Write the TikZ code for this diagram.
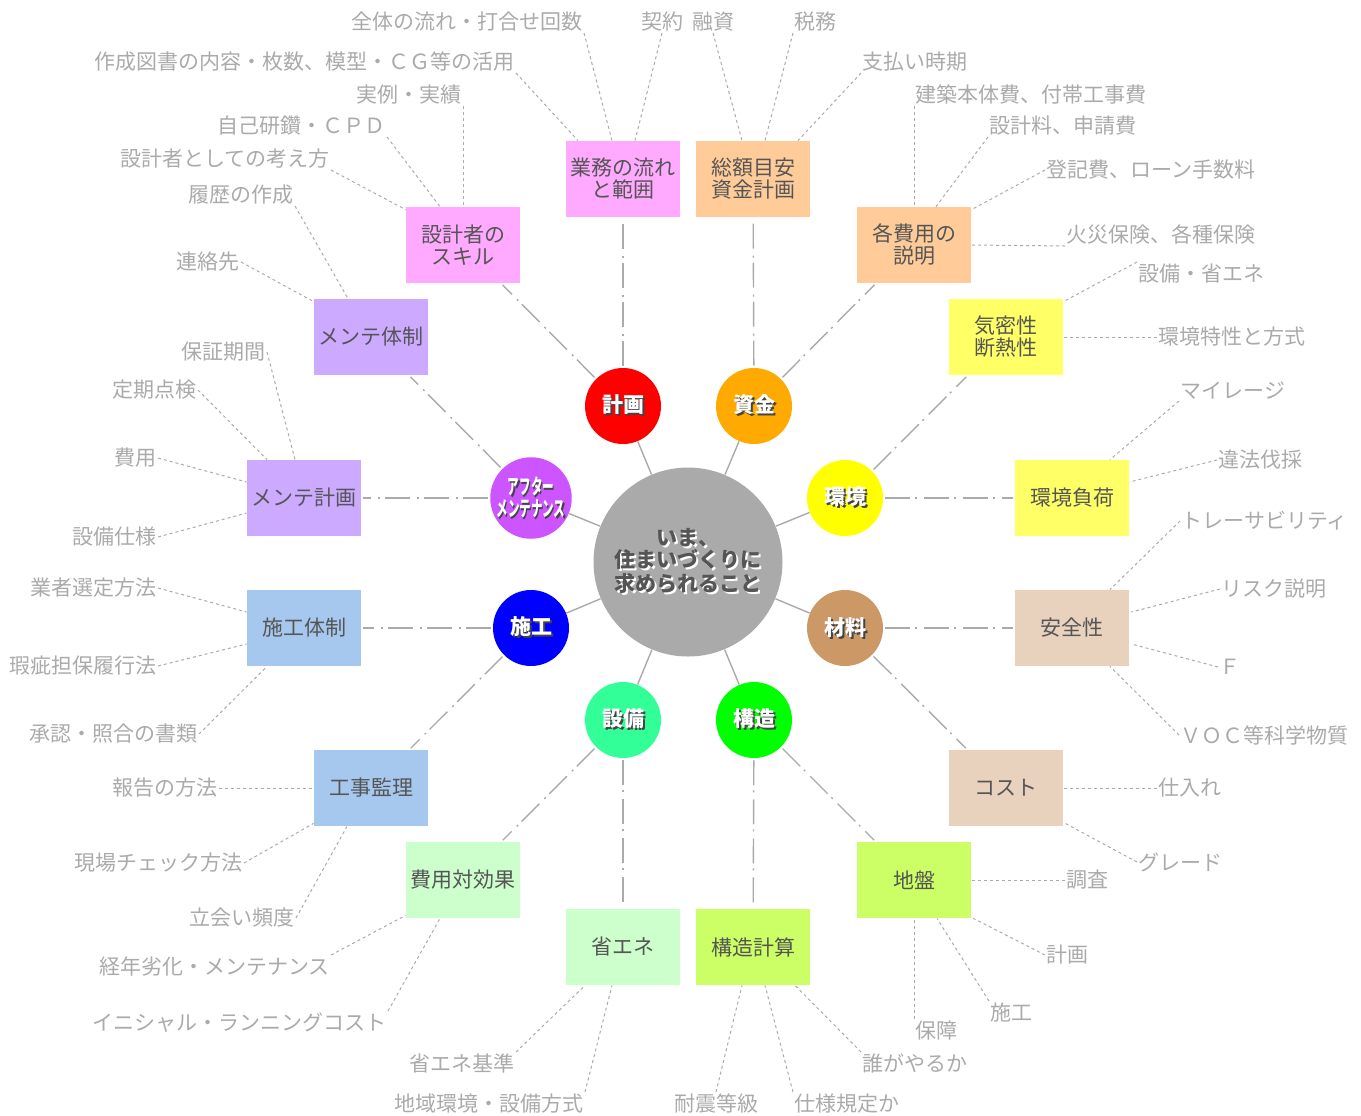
\documentclass[tikz,border=0pt]{standalone}
\usepackage{fontspec}
\setmainfont{Noto Sans CJK JP}
\usepackage{graphicx}
\usetikzlibrary{calc}
\definecolor{leafgray}{HTML}{AAAAAA}
\definecolor{linegray}{HTML}{AAAAAA}
\definecolor{boxtext}{HTML}{555555}
\definecolor{centergray}{HTML}{AAAAAA}
\definecolor{centertext}{HTML}{555555}
\definecolor{shadowdark}{HTML}{444444}
\definecolor{pinkA}{HTML}{FFAAFF}
\definecolor{peach}{HTML}{FFCC99}
\definecolor{yellowL}{HTML}{FFFF66}
\definecolor{tanL}{HTML}{E8D1BD}
\definecolor{limeL}{HTML}{CCFF66}
\definecolor{mintL}{HTML}{CCFFCC}
\definecolor{blueL}{HTML}{A6C8EE}
\definecolor{lilac}{HTML}{CCAAFF}
\definecolor{cRed}{HTML}{FF0000}
\definecolor{cOrange}{HTML}{FFAA00}
\definecolor{cYellow}{HTML}{FFFF00}
\definecolor{cTan}{HTML}{CC9966}
\definecolor{cGreen}{HTML}{00FF00}
\definecolor{cMint}{HTML}{33FF99}
\definecolor{cBlue}{HTML}{0000FF}
\definecolor{cPurple}{HTML}{CC55FF}
\newcommand\shd[2]{\leavevmode\rlap{\kern1pt\raisebox{-1pt}{\textcolor{#1}{#2}}}#2}
\tikzset{
  box/.style={rectangle, minimum width=57pt, minimum height=38pt, inner sep=0pt, text=boxtext, align=center, font=\fontsize{10.5pt}{11pt}\selectfont},
  cat/.style={circle, minimum size=38pt, inner sep=0pt, text=white, align=center, font=\fontsize{10.5pt}{11pt}\selectfont\bfseries},
  leaf/.style={inner sep=0.5pt, text=leafgray, font=\fontsize{10.5pt}{12pt}\selectfont},
  leafline/.style={draw=leafgray, line width=0.5pt, dash pattern=on 1.5pt off 1.5pt},
  spoke/.style={draw=linegray, line width=0.7pt},
  branch/.style={draw=linegray, line width=0.7pt, dash pattern=on 12.5pt off 2.5pt on 1pt off 3.5pt, shorten <=1pt, shorten >=1pt},
}
\begin{document}
\begin{tikzpicture}[x=0.5pt,y=-0.5pt]
\useasboundingbox (0,0) rectangle (1361,1115);
% center
\node[circle, fill=centergray, minimum size=94.5pt, inner sep=0pt, align=center, text=centertext, font=\fontsize{10.5pt}{11pt}\selectfont\bfseries] (ctr) at (688,562) {\shd{white}{いま、}\\\shd{white}{住まいづくりに}\\\shd{white}{求められること}};
% categories
\node[cat, fill=cRed] (cKei) at (623,406) {\shd{shadowdark}{計画}};
\node[cat, fill=cOrange] (cShi) at (754,406) {\shd{shadowdark}{資金}};
\node[cat, fill=cYellow] (cKan) at (845,498) {\shd{shadowdark}{環境}};
\node[cat, fill=cTan] (cZai) at (845,628) {\shd{shadowdark}{材料}};
\node[cat, fill=cGreen] (cKoz) at (754,720) {\shd{shadowdark}{構造}};
\node[cat, fill=cMint] (cSet) at (623,720) {\shd{shadowdark}{設備}};
\node[cat, fill=cBlue] (cSek) at (531,628) {\shd{shadowdark}{施工}};
\node[cat, fill=cPurple] (cAft) at (531,498) {\scalebox{0.55}[1]{\shd{shadowdark}{アフター}}\\\scalebox{0.55}[1]{\shd{shadowdark}{メンテナンス}}};
\foreach \c in {cKei,cShi,cKan,cZai,cKoz,cSet,cSek,cAft}{\draw[spoke] (ctr) -- (\c);}
% boxes
\node[box, fill=pinkA] (bA) at (623,179) {業務の流れ\\と範囲};
\node[box, fill=peach] (bB) at (753,179) {総額目安\\資金計画};
\node[box, fill=peach] (bC) at (914,245) {各費用の\\説明};
\node[box, fill=yellowL] (bD) at (1006,337) {気密性\\断熱性};
\node[box, fill=yellowL] (bE) at (1072,498) {環境負荷};
\node[box, fill=tanL] (bF) at (1072,628) {安全性};
\node[box, fill=tanL] (bG) at (1006,788) {コスト};
\node[box, fill=limeL] (bH) at (914,880) {地盤};
\node[box, fill=limeL] (bI) at (753,947) {構造計算};
\node[box, fill=mintL] (bJ) at (623,947) {省エネ};
\node[box, fill=mintL] (bK) at (463,880) {費用対効果};
\node[box, fill=blueL] (bL) at (371,788) {工事監理};
\node[box, fill=blueL] (bM) at (304,628) {施工体制};
\node[box, fill=lilac] (bN) at (304,498) {メンテ計画};
\node[box, fill=lilac] (bO) at (371,337) {メンテ体制};
\node[box, fill=pinkA] (bP) at (463,245) {設計者の\\スキル};
% branches
\draw[branch] (cKei) -- (bA);
\draw[branch] (cKei) -- (bP);
\draw[branch] (cShi) -- (bB);
\draw[branch] (cShi) -- (bC);
\draw[branch] (cKan) -- (bD);
\draw[branch] (cKan) -- (bE);
\draw[branch] (cZai) -- (bF);
\draw[branch] (cZai) -- (bG);
\draw[branch] (cKoz) -- (bH);
\draw[branch] (cKoz) -- (bI);
\draw[branch] (cSet) -- (bJ);
\draw[branch] (cSet) -- (bK);
\draw[branch] (cSek) -- (bL);
\draw[branch] (cSek) -- (bM);
\draw[branch] (cAft) -- (bN);
\draw[branch] (cAft) -- (bO);
% leaves bA
\node[leaf, anchor=south east] (l1) at (584,33) {全体の流れ・打合せ回数};
\draw[leafline] (l1.south east) -- ($(bA.north)+(-11,0)$);
\node[leaf, anchor=south east] (l2) at (516,73) {作成図書の内容・枚数、模型・ＣＧ等の活用};
\draw[leafline] (l2.south east) -- ($(bA.north)+(-45,0)$);
\node[leaf, anchor=south] (l3) at (662,33) {契約};
\draw[leafline] (l3.south) -- ($(bA.north)+(12,0)$);
% bB
\node[leaf, anchor=south] (l4) at (713,33) {融資};
\draw[leafline] (l4.south) -- ($(bB.north)+(-11,0)$);
\node[leaf, anchor=south west] (l5) at (793,33) {税務};
\draw[leafline] (l5.south west) -- ($(bB.north)+(12,0)$);
\node[leaf, anchor=south west] (l6) at (861,73) {支払い時期};
\draw[leafline] (l6.south west) -- ($(bB.north)+(45,0)$);
% bC
\node[leaf, anchor=south west] (l7) at (914,106) {建築本体費、付帯工事費};
\draw[leafline] (l7.south west) -- (bC.north);
\node[leaf, anchor=south west] (l8) at (988,137) {設計料、申請費};
\draw[leafline] (l8.south west) -- ($(bC.north)+(22,0)$);
\node[leaf, anchor=west] (l9) at (1045,170) {登記費、ローン手数料};
\draw[leafline] (l9.west) -- ($(bC.north east)+(2,2)$);
\node[leaf, anchor=south west] (l10) at (1065,246) {火災保険、各種保険};
\draw[leafline] (l10.south west) -- (bC.east);
% bD
\node[leaf, anchor=north west] (l11) at (1137,262) {設備・省エネ};
\draw[leafline] (l11.north west) -- ($(bD.north east)+(2,2)$);
\node[leaf, anchor=west] (l12) at (1157,337) {環境特性と方式};
\draw[leafline] (l12.west) -- (bD.east);
% bE
\node[leaf, anchor=south west] (l13) at (1179,401) {マイレージ};
\draw[leafline] (l13.south west) -- ($(bE.north)+(38,0)$);
\node[leaf, anchor=west] (l14) at (1217,460) {違法伐採};
\draw[leafline] (l14.west) -- ($(bE.east)+(0,-16)$);
% bF
\node[leaf, anchor=west] (l15) at (1180,521) {トレーサビリティ};
\draw[leafline] (l15.west) -- ($(bF.north)+(38,0)$);
\node[leaf, anchor=west] (l16) at (1220,589) {リスク説明};
\draw[leafline] (l16.west) -- ($(bF.east)+(2,-16)$);
\node[leaf, anchor=west] (l17) at (1218,667) {Ｆ};
\draw[leafline] (l17.west) -- ($(bF.east)+(2,16)$);
\node[leaf, anchor=west] (l18) at (1179,735) {ＶＯＣ等科学物質};
\draw[leafline] (l18.west) -- ($(bF.south)+(38,0)$);
% bG
\node[leaf, anchor=west] (l19) at (1157,788) {仕入れ};
\draw[leafline] (l19.west) -- (bG.east);
\node[leaf, anchor=west] (l20) at (1137,862) {グレード};
\draw[leafline] (l20.west) -- ($(bG.south east)+(2,-3)$);
% bH
\node[leaf, anchor=west] (l21) at (1065,880) {調査};
\draw[leafline] (l21.west) -- (bH.east);
\node[leaf, anchor=west] (l22) at (1045,955) {計画};
\draw[leafline] (l22.west) -- ($(bH.south east)+(2,0)$);
\node[leaf, anchor=north west] (l23) at (989,1001) {施工};
\draw[leafline] (l23.north west) -- ($(bH.south)+(23,0)$);
\node[leaf, anchor=north west] (l24) at (914,1019) {保障};
\draw[leafline] (l24.north west) -- (bH.south);
% bI
\node[leaf, anchor=north west] (l25) at (861,1052) {誰がやるか};
\draw[leafline] (l25.north west) -- ($(bI.south)+(42,0)$);
\node[leaf, anchor=north west] (l26) at (793,1092) {仕様規定か};
\draw[leafline] (l26.north west) -- ($(bI.south)+(12,0)$);
\node[leaf, anchor=north] (l27) at (716,1092) {耐震等級};
\draw[leafline] (l27.north) -- ($(bI.south)+(-11,0)$);
% bJ
\node[leaf, anchor=north east] (l28) at (516,1052) {省エネ基準};
\draw[leafline] (l28.north east) -- ($(bJ.south)+(-38,0)$);
\node[leaf, anchor=north east] (l29) at (585,1092) {地域環境・設備方式};
\draw[leafline] (l29.north east) -- ($(bJ.south)+(-11,0)$);
% bK
\node[leaf, anchor=north east] (l30) at (331,955) {経年劣化・メンテナンス};
\draw[leafline] (l30.north east) -- ($(bK.south west)+(0,-3)$);
\node[leaf, anchor=north east] (l31) at (388,1011) {イニシャル・ランニングコスト};
\draw[leafline] (l31.north east) -- ($(bK.south)+(-23,0)$);
% bL
\node[leaf, anchor=east] (l32) at (219,788) {報告の方法};
\draw[leafline] (l32.east) -- (bL.west);
\node[leaf, anchor=east] (l33) at (244,863) {現場チェック方法};
\draw[leafline] (l33.east) -- ($(bL.south west)+(0,-3)$);
\node[leaf, anchor=east] (l34) at (296,918) {立会い頻度};
\draw[leafline] (l34.east) -- ($(bL.south)+(-24,0)$);
% bM
\node[leaf, anchor=east] (l35) at (158,588) {業者選定方法};
\draw[leafline] (l35.east) -- ($(bM.west)+(0,-16)$);
\node[leaf, anchor=east] (l36) at (158,666) {瑕疵担保履行法};
\draw[leafline] (l36.east) -- ($(bM.west)+(0,16)$);
\node[leaf, anchor=east] (l37) at (199,734) {承認・照合の書類};
\draw[leafline] (l37.east) -- ($(bM.south)+(-37,0)$);
% bN
\node[leaf, anchor=east] (l38) at (267,352) {保証期間};
\draw[leafline] (l38.east) -- ($(bN.north)+(-9,0)$);
\node[leaf, anchor=east] (l39) at (198,390) {定期点検};
\draw[leafline] (l39.east) -- ($(bN.north)+(-37,0)$);
\node[leaf, anchor=east] (l40) at (158,458) {費用};
\draw[leafline] (l40.east) -- ($(bN.west)+(0,-16)$);
\node[leaf, anchor=east] (l41) at (158,537) {設備仕様};
\draw[leafline] (l41.east) -- ($(bN.west)+(0,15)$);
% bO
\node[leaf, anchor=south east] (l42) at (295,206) {履歴の作成};
\draw[leafline] (l42.south east) -- ($(bO.north)+(-23,0)$);
\node[leaf, anchor=east] (l43) at (241,262) {連絡先};
\draw[leafline] (l43.east) -- ($(bO.north west)+(0,3)$);
% bP
\node[leaf, anchor=south east] (l44) at (463,106) {実例・実績};
\draw[leafline] (l44.south east) -- (bP.north);
\node[leaf, anchor=south east] (l45) at (387,137) {自己研鑽・ＣＰＤ};
\draw[leafline] (l45.south east) -- ($(bP.north)+(-23,0)$);
\node[leaf, anchor=south east] (l46) at (331,170) {設計者としての考え方};
\draw[leafline] (l46.south east) -- ($(bP.north west)+(0,3)$);
\end{tikzpicture}
\end{document}
